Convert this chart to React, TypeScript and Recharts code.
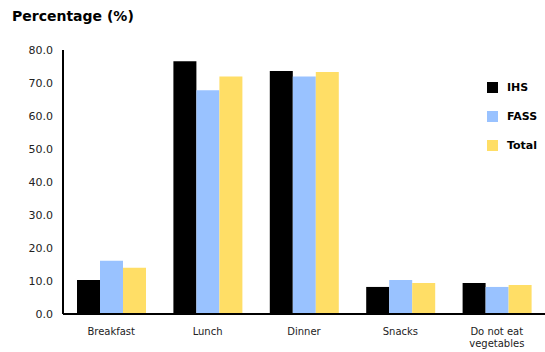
import { Bar, BarChart, XAxis, YAxis } from "recharts";

const categories = ["Breakfast", "Lunch", "Dinner", "Snacks", "Do not eat\nvegetables"];
const ihs = [10.3, 76.6, 73.6, 8.2, 9.4];
const fass = [16.1, 67.8, 72.0, 10.3, 8.2];
const total = [14.0, 72.0, 73.3, 9.4, 8.8];
const yTicks = [0, 10, 20, 30, 40, 50, 60, 70, 80];

const series = [
  { key: "IHS", color: "#000000", values: ihs },
  { key: "FASS", color: "#99C2FF", values: fass },
  { key: "Total", color: "#FFDE66", values: total },
];

const data = categories.map((name, i) => ({
  name,
  IHS: ihs[i],
  FASS: fass[i],
  Total: total[i],
}));

const font = "Verdana, 'DejaVu Sans', sans-serif";

function CategoryTick({ x, y, payload }: any) {
  const lines = String(payload.value).split("\n");
  return (
    <text x={x} y={y} textAnchor="middle" fontFamily={font} fontSize={10} fill="#222">
      {lines.map((l, i) => (
        <tspan key={i} x={x} dy={i === 0 ? 13 : 12}>
          {l}
        </tspan>
      ))}
    </text>
  );
}

// legend drawn beside the plot, outside recharts' layout so it doesn't shrink the plot
function SideLegend() {
  return (
    <div
      style={{
        position: "absolute",
        left: 487,
        top: 73,
        fontFamily: font,
        fontSize: 11,
        fontWeight: "bold",
      }}
    >
      {series.map((s) => (
        <div key={s.key} style={{ display: "flex", alignItems: "center", height: 29 }}>
          <span style={{ width: 11, height: 11, background: s.color, marginRight: 9 }} />
          <span>{s.key}</span>
        </div>
      ))}
    </div>
  );
}

export default function App() {
  return (
    <div style={{ position: "absolute", left: 0, top: 0, width: 545, height: 352, background: "#fff" }}>
      <div
        style={{
          position: "absolute",
          left: 12,
          top: 8,
          fontFamily: font,
          fontSize: 14,
          fontWeight: "bold",
          color: "#000",
        }}
      >
        Percentage (%)
      </div>
      <BarChart
        width={545}
        height={352}
        data={data}
        margin={{ top: 50, right: 0, bottom: 0, left: 0 }}
        barCategoryGap={14}
        barGap={0}
      >
        <XAxis
          dataKey="name"
          tick={<CategoryTick />}
          tickLine={false}
          axisLine={{ stroke: "#000", strokeWidth: 2 }}
          interval={0}
          height={38}
        />
        <YAxis
          domain={[0, 80]}
          ticks={yTicks}
          tickFormatter={(v: number) => v.toFixed(1)}
          tick={{ fontFamily: font, fontSize: 11, fill: "#222" }}
          tickLine={false}
          axisLine={{ stroke: "#000", strokeWidth: 2 }}
          width={63}
          tickMargin={4}
          interval={0}
        />
        {series.map((s) => (
          <Bar key={s.key} dataKey={s.key} fill={s.color} isAnimationActive={false} />
        ))}
      </BarChart>
      <SideLegend />
    </div>
  );
}
